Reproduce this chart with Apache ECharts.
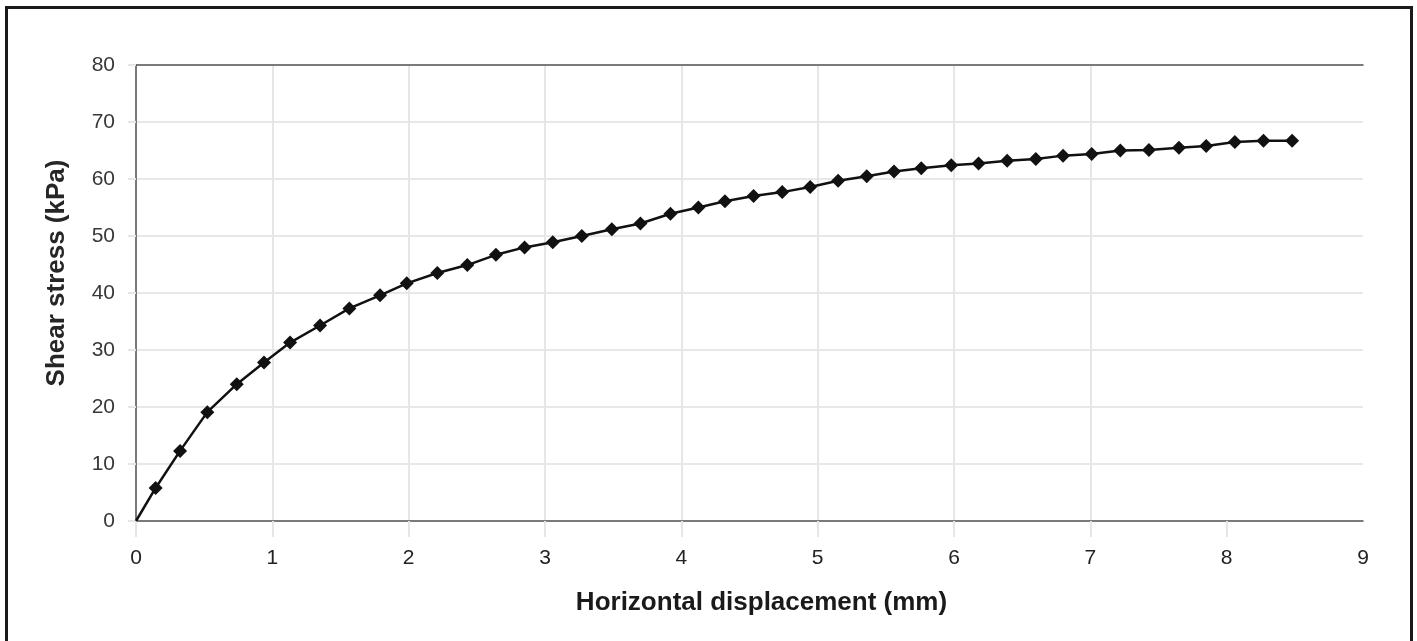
<!DOCTYPE html>
<html>
<head>
<meta charset="utf-8">
<script src="https://cdn.jsdelivr.net/npm/echarts@6/dist/echarts.min.js"></script>
<style>
html,body{margin:0;padding:0;background:#fff;}
#chart{width:1417px;height:641px;}
</style>
</head>
<body>
<div id="chart"></div>
<script>
// Horizontal displacement (mm)
var displacement = [0, 0.144, 0.323, 0.523, 0.739, 0.939, 1.13, 1.35, 1.565, 1.79, 1.986, 2.21, 2.43, 2.64, 2.85, 3.057, 3.27, 3.49, 3.70, 3.92, 4.125, 4.32, 4.53, 4.74, 4.945, 5.15, 5.36, 5.56, 5.76, 5.98, 6.18, 6.39, 6.60, 6.80, 7.01, 7.22, 7.43, 7.65, 7.85, 8.06, 8.27, 8.48];
// Shear stress (kPa)
var shearStress = [0, 5.8, 12.3, 19.1, 24.0, 27.8, 31.3, 34.3, 37.3, 39.6, 41.7, 43.5, 44.9, 46.7, 48.0, 48.9, 50.0, 51.2, 52.2, 53.9, 55.0, 56.1, 57.0, 57.7, 58.6, 59.7, 60.5, 61.3, 61.9, 62.4, 62.7, 63.2, 63.5, 64.1, 64.4, 65.0, 65.1, 65.5, 65.8, 66.5, 66.7, 66.7];
// tick values
var xTicks = [0, 1, 2, 3, 4, 5, 6, 7, 8, 9];
var xGridTicks = [0, 1, 2, 3, 4, 5, 6, 7, 8];
var xAxisName = 'Horizontal displacement (mm)';
var yAxisName = 'Shear stress (kPa)';

var seriesData = displacement.map(function (x, i) {
  var item = { value: [x, shearStress[i]] };
  if (i === 0) { item.symbol = 'none'; }
  return item;
});

var chart = echarts.init(document.getElementById('chart'), null, { renderer: 'canvas' });
var fontFam = '"Liberation Sans", Arial, sans-serif';
chart.setOption({
  animation: false,
  backgroundColor: '#ffffff',
  grid: { left: 136, right: 54, top: 65, bottom: 120, containLabel: false },
  xAxis: [{
    type: 'value', min: 0, max: 9, interval: 1,
    name: xAxisName, nameLocation: 'middle', nameGap: 69,
    nameTextStyle: { fontFamily: fontFam, fontSize: 26, fontWeight: 'bold', color: '#1a1a1a', padding: [0, 0, 0, 24] },
    axisLine: { show: true, lineStyle: { color: '#555', width: 1.5 } },
    axisTick: { show: true, length: 16, customValues: xGridTicks, lineStyle: { color: '#e6e6e6', width: 2 } },
    axisLabel: { fontFamily: fontFam, fontSize: 21, color: '#222', margin: 27, customValues: xTicks },
    splitLine: { show: true, showMaxLine: false, lineStyle: { color: '#e6e6e6', width: 2 } }
  }, {
    type: 'value', min: 0, max: 9, position: 'top',
    axisLine: { show: true, lineStyle: { color: '#555', width: 1.5 } },
    axisTick: { show: false }, axisLabel: { show: false }, splitLine: { show: false }
  }],
  yAxis: {
    type: 'value', min: 0, max: 80, interval: 10,
    name: yAxisName, nameLocation: 'middle', nameGap: 66,
    nameTextStyle: { fontFamily: fontFam, fontSize: 26, fontWeight: 'bold', color: '#262626', padding: [0, 0, 0, 40] },
    axisLine: { show: true, lineStyle: { color: '#555', width: 1.5 } },
    axisTick: { show: true, length: 8, lineStyle: { color: '#e6e6e6', width: 2 } },
    axisLabel: { fontFamily: fontFam, fontSize: 21, color: '#383838', margin: 21 },
    splitLine: { show: true, lineStyle: { color: '#e8e8e8', width: 2 } }
  },
  graphic: [{
    type: 'rect', silent: true, z: 100,
    shape: { x: 6.5, y: 7.5, width: 1405, height: 700 },
    style: { fill: 'none', stroke: '#1a1a1a', lineWidth: 3 }
  }],
  series: [{
    type: 'line',
    data: seriesData,
    symbol: 'diamond',
    symbolSize: 14,
    showAllSymbol: true,
    lineStyle: { color: '#111', width: 2.5 },
    itemStyle: { color: '#111', borderWidth: 0 },
    z: 5
  }]
});
</script>
</body>
</html>
